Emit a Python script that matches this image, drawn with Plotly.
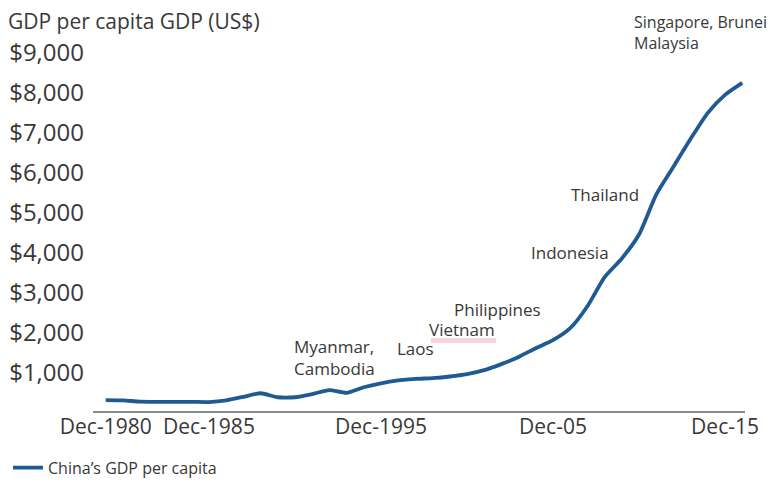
import plotly.graph_objects as go

# Data (annual, US$)
years = list(range(1979, 2017))
gdp_per_capita = [300, 290, 260, 255, 255, 255, 250, 290, 380, 470,
                  370, 370, 450, 550, 480, 620, 720, 790, 830, 850,
                  890, 950, 1050, 1200, 1380, 1600, 1800, 2100, 2650, 3380,
                  3850, 4450, 5450, 6150, 6850, 7500, 7950, 8250]

tick_years = [1979, 1985, 1995, 2005, 2015]
tick_labels = ["Dec-1980", "Dec-1985", "Dec-1995", "Dec-05", "Dec-15"]
y_ticks = [1000, 2000, 3000, 4000, 5000, 6000, 7000, 8000, 9000]
y_tick_labels = ["$1,000", "$2,000", "$3,000", "$4,000", "$5,000",
                 "$6,000", "$7,000", "$8,000", "$9,000"]

# Country annotations inside the plot: (label, x year, y value)
ann_labels = ["Myanmar,<br>Cambodia", "Laos", "Vietnam", "Philippines",
              "Indonesia", "Thailand"]
ann_x = [1992.27, 1996.98, 1999.71, 2001.8, 2005.99, 2008.02]
ann_y = [1378, 1604, 2070, 2570, 4010, 5464]

# Annotation above the top of the value axis
top_label = "Singapore, Brunei<br>Malaysia"
top_label_x = 2009.6

FONT = "Open Sans"
TXT = "#383838"

fig = go.Figure()
fig.add_trace(go.Scatter(
    x=years, y=gdp_per_capita, mode="lines",
    line=dict(color="#1f5a93", width=3.8, shape="spline", smoothing=0.6),
    name="China\u2019s GDP per capita",
))

for t, xv, yv in zip(ann_labels, ann_x, ann_y):
    fig.add_annotation(x=xv, y=yv, text=t, showarrow=False, xanchor="center",
                       align="left", font=dict(family=FONT, size=17, color=TXT))

fig.add_annotation(x=top_label_x, xref="x", y=1.058, yref="paper",
                   text=top_label, showarrow=False, xanchor="left",
                   yanchor="middle", align="left",
                   font=dict(family=FONT, size=16, color=TXT))

# faint pink underline seen beneath "Vietnam"
fig.add_shape(type="line", x0=1997.9, x1=2001.7, y0=1790, y1=1790,
              line=dict(color="rgba(236,150,168,0.4)", width=5), layer="below")

fig.update_layout(
    width=776, height=475, autosize=False,
    margin=dict(l=85, r=39, t=45, b=71),
    paper_bgcolor="white", plot_bgcolor="white",
    font=dict(family=FONT, color=TXT),
    title=dict(text="GDP per capita GDP (US$)", x=0.0, xanchor="left",
               y=0.972, yanchor="middle", xref="container", yref="container",
               font=dict(family=FONT, size=21, color=TXT)),
    showlegend=True,
    legend=dict(orientation="h", xref="container", yref="container",
                x=0.0, xanchor="left", y=0.032, yanchor="middle",
                font=dict(family=FONT, size=16, color=TXT),
                itemwidth=30, bgcolor="rgba(0,0,0,0)"),
    xaxis=dict(range=[1978.26, 2016.16], tickvals=tick_years, ticktext=tick_labels,
               showgrid=False, zeroline=False, showline=False, ticks="",
               automargin=False,
               tickfont=dict(family=FONT, size=21, color=TXT)),
    yaxis=dict(range=[0, 9000], tickvals=y_ticks, ticktext=y_tick_labels,
               showgrid=False, zeroline=True, zerolinecolor="#8a8a8a",
               zerolinewidth=2, showline=False, ticks="", ticklabelstandoff=8,
               automargin=False,
               tickfont=dict(family=FONT, size=24, color=TXT)),
)

fig.write_html("out.html")
